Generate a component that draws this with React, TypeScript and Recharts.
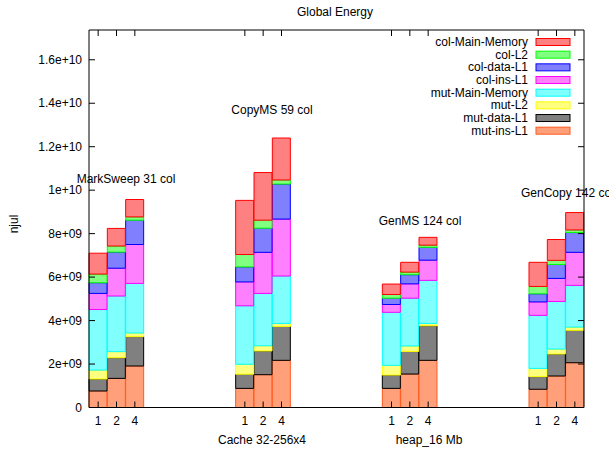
import { ComposedChart, Bar, Line, XAxis, YAxis } from 'recharts';

const FONT = '"Liberation Sans", Arial, sans-serif';

const GROUPS = ['MarkSweep', 'CopyMS', 'GenMS', 'GenCopy'];
const GROUP_NOTES = ['MarkSweep 31 col', 'CopyMS 59 col', 'GenMS 124 col', 'GenCopy 142 col'];
const CPUS = ['1', '2', '4'];
const GAP_SLOTS = 5;
const AXIS_GROUP_LABELS = ['Cache 32-256x4', 'heap_16 Mb'];

// energy per component, njul — MarkSweep 1/2/4, CopyMS 1/2/4, GenMS 1/2/4, GenCopy 1/2/4
const MUT_INS_L1 = [0.76e9, 1.34e9, 1.91e9, 0.88e9, 1.51e9, 2.17e9, 0.88e9, 1.54e9, 2.17e9, 0.84e9, 1.45e9, 2.06e9];
const MUT_DATA_L1 = [0.55e9, 0.95e9, 1.35e9, 0.65e9, 1.09e9, 1.56e9, 0.61e9, 1.04e9, 1.59e9, 0.58e9, 1.01e9, 1.49e9];
const MUT_L2 = [0.41e9, 0.28e9, 0.17e9, 0.46e9, 0.24e9, 0.14e9, 0.45e9, 0.25e9, 0.11e9, 0.38e9, 0.23e9, 0.15e9];
const MUT_MAIN_MEMORY = [2.79e9, 2.56e9, 2.28e9, 2.69e9, 2.41e9, 2.18e9, 2.44e9, 2.2e9, 1.98e9, 2.44e9, 2.19e9, 1.92e9];
const COL_INS_L1 = [0.74e9, 1.28e9, 1.79e9, 1.1e9, 1.89e9, 2.62e9, 0.36e9, 0.66e9, 0.93e9, 0.62e9, 1.06e9, 1.52e9];
const COL_DATA_L1 = [0.49e9, 0.74e9, 1.12e9, 0.69e9, 1.11e9, 1.61e9, 0.29e9, 0.42e9, 0.59e9, 0.37e9, 0.64e9, 0.91e9];
const COL_L2 = [0.4e9, 0.28e9, 0.15e9, 0.57e9, 0.37e9, 0.19e9, 0.17e9, 0.12e9, 0.1e9, 0.34e9, 0.19e9, 0.12e9];
const COL_MAIN_MEMORY = [0.96e9, 0.81e9, 0.8e9, 2.49e9, 2.19e9, 1.93e9, 0.48e9, 0.45e9, 0.36e9, 1.11e9, 0.96e9, 0.8e9];

const Y_MAX = 1.737e10;
const Y_TICKS = [0, 2e9, 4e9, 6e9, 8e9, 1e10, 1.2e10, 1.4e10, 1.6e10];
const Y_TICK_LABELS = ['0', '2e+09', '4e+09', '6e+09', '8e+09', '1e+10', '1.2e+10', '1.4e+10', '1.6e+10'];

// bottom to top of the stack
const SERIES = [
  { key: 'mutInsL1', name: 'mut-ins-L1', values: MUT_INS_L1, fill: '#ffa07a', stroke: '#ff5a1e' },
  { key: 'mutDataL1', name: 'mut-data-L1', values: MUT_DATA_L1, fill: '#808080', stroke: '#000000' },
  { key: 'mutL2', name: 'mut-L2', values: MUT_L2, fill: '#ffff80', stroke: '#ffff00' },
  { key: 'mutMM', name: 'mut-Main-Memory', values: MUT_MAIN_MEMORY, fill: '#80ffff', stroke: '#00ffff' },
  { key: 'colInsL1', name: 'col-ins-L1', values: COL_INS_L1, fill: '#ff80ff', stroke: '#ff00ff' },
  { key: 'colDataL1', name: 'col-data-L1', values: COL_DATA_L1, fill: '#8080ff', stroke: '#0000ff' },
  { key: 'colL2', name: 'col-L2', values: COL_L2, fill: '#80ff80', stroke: '#00ff00' },
  { key: 'colMM', name: 'col-Main-Memory', values: COL_MAIN_MEMORY, fill: '#ff8080', stroke: '#ff0000' },
];

type Row = { [k: string]: string | number };

const rows: Row[] = [];
GROUPS.forEach((g, gi) => {
  CPUS.forEach((c, ci) => {
    const row: Row = { slot: `${g}|${c}` };
    SERIES.forEach((s) => { row[s.key] = s.values[gi * CPUS.length + ci]; });
    rows.push(row);
  });
  if (gi < GROUPS.length - 1) {
    for (let k = 0; k < GAP_SLOTS; k++) rows.push({ slot: `gap|${gi}|${k}` });
  }
});

const slotLabel = (v: string) => (v.startsWith('gap') ? '' : v.split('|')[1]);
const isGap = (v: string) => v.startsWith('gap');

const LeftTick = (p: any) => {
  const i = Y_TICKS.indexOf(p.payload.value);
  return (
    <g>
      <line x1={p.x} x2={p.x + 6} y1={p.y} y2={p.y} stroke="#000" />
      <text x={p.x - 7} y={p.y + 4} textAnchor="end" fontSize={12} fontFamily={FONT} fill="#000">
        {Y_TICK_LABELS[i]}
      </text>
    </g>
  );
};

const RightTick = (p: any) => (
  <line x1={p.x - 6} x2={p.x} y1={p.y} y2={p.y} stroke="#000" />
);

const BottomTick = (p: any) => {
  const v = String(p.payload.value);
  if (isGap(v)) return <g />;
  return (
    <g>
      <line x1={p.x} x2={p.x} y1={p.y} y2={p.y - 6} stroke="#000" />
      <text x={p.x} y={p.y + 17} textAnchor="middle" fontSize={12} fontFamily={FONT} fill="#000">
        {slotLabel(v)}
      </text>
    </g>
  );
};

const TopTick = (p: any) => {
  const v = String(p.payload.value);
  if (isGap(v)) return <g />;
  return <line x1={p.x} x2={p.x} y1={p.y} y2={p.y + 6} stroke="#000" />;
};

export default function App() {
  const legend = [...SERIES].reverse();
  return (
    <div style={{ position: 'absolute', left: 0, top: 0, width: 609, height: 449, background: '#fff' }}>
      <svg width={609} height={449} style={{ position: 'absolute', left: 0, top: 0 }} fontFamily={FONT}>
        <text x={335} y={16} textAnchor="middle" fontSize={12}>Global Energy</text>
        <text x={14} y={224} textAnchor="middle" dominantBaseline="central" fontSize={12} transform="rotate(-90 14 224)">njul</text>
        <text x={126} y={183} textAnchor="middle" fontSize={12}>{GROUP_NOTES[0]}</text>
        <text x={272} y={114} textAnchor="middle" fontSize={12}>{GROUP_NOTES[1]}</text>
        <text x={420} y={225} textAnchor="middle" fontSize={12}>{GROUP_NOTES[2]}</text>
        <text x={521} y={197} textAnchor="start" fontSize={12}>{GROUP_NOTES[3]}</text>
        <text x={262} y={444} textAnchor="middle" fontSize={12}>{AXIS_GROUP_LABELS[0]}</text>
        <text x={429} y={444} textAnchor="middle" fontSize={12}>{AXIS_GROUP_LABELS[1]}</text>
        {legend.map((s, i) => (
          <g key={s.key}>
            <text x={528} y={46 + i * 12.67} textAnchor="end" fontSize={12}>{s.name}</text>
            <rect x={536} y={38.5 + i * 12.67} width={34} height={7} fill={s.fill} stroke={s.stroke} />
          </g>
        ))}
      </svg>
      <div style={{ position: 'absolute', left: 0, top: 0 }}>
        <ComposedChart
          width={609}
          height={449}
          data={rows}
          margin={{ top: 29, right: 24, bottom: 11.5, left: 0 }}
          barCategoryGap={0}
          barGap={0}
        >
          <XAxis
            xAxisId="b"
            dataKey="slot"
            interval={0}
            height={30}
            tickSize={0}
            tickMargin={0}
            tickLine={false}
            tick={BottomTick}
            axisLine={{ stroke: '#000' }}
          />
          <XAxis
            xAxisId="t"
            dataKey="slot"
            orientation="top"
            interval={0}
            height={1}
            tickSize={0}
            tickMargin={0}
            tickLine={false}
            tick={TopTick}
            axisLine={{ stroke: '#000' }}
          />
          <YAxis
            yAxisId="l"
            width={89}
            domain={[0, Y_MAX]}
            ticks={Y_TICKS}
            allowDataOverflow
            tickSize={0}
            tickMargin={0}
            tickLine={false}
            tick={LeftTick}
            axisLine={{ stroke: '#000' }}
          />
          <YAxis
            yAxisId="r"
            orientation="right"
            width={1}
            domain={[0, Y_MAX]}
            ticks={Y_TICKS}
            allowDataOverflow
            tickSize={0}
            tickMargin={0}
            tickLine={false}
            tick={RightTick}
            axisLine={{ stroke: '#000' }}
          />
          {SERIES.map((s) => (
            <Bar
              key={s.key}
              dataKey={s.key}
              name={s.name}
              stackId="e"
              xAxisId="b"
              yAxisId="l"
              fill={s.fill}
              stroke={s.stroke}
              strokeWidth={1}
              isAnimationActive={false}
            />
          ))}
          {/* carrier so the mirrored top/right axes get drawn */}
          <Line
            dataKey={SERIES[0].key}
            xAxisId="t"
            yAxisId="r"
            stroke="none"
            dot={false}
            activeDot={false}
            legendType="none"
            isAnimationActive={false}
          />
        </ComposedChart>
      </div>
    </div>
  );
}
